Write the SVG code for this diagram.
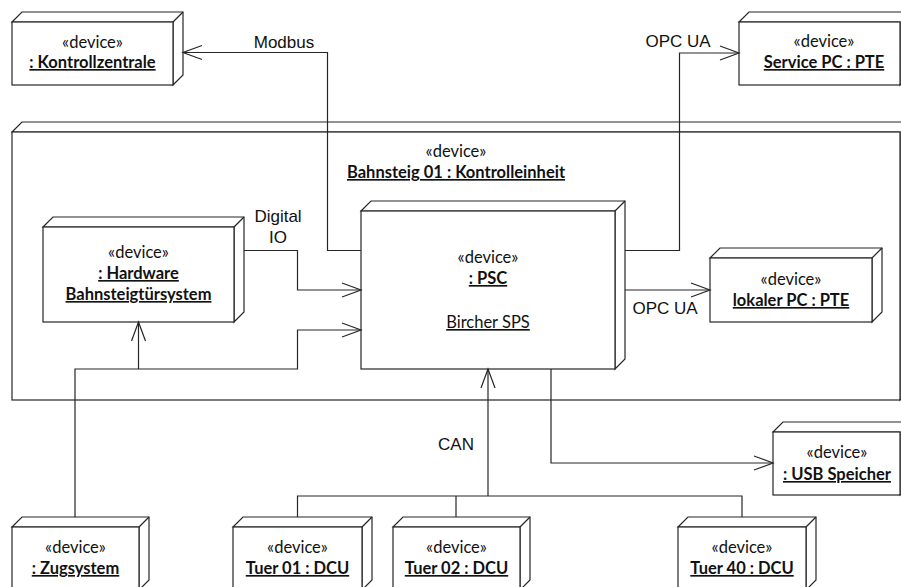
<svg xmlns="http://www.w3.org/2000/svg" width="901" height="587" viewBox="0 0 901 587">
<style>
.n{fill:#fff;stroke:#262626;stroke-width:1.2}
.c{fill:none;stroke:#262626;stroke-width:1.2}
.s{font-family:Lato,"Open Sans",sans-serif;font-size:16.5px;fill:#111;text-anchor:middle}
.b{font-weight:bold;text-decoration:underline}
.u{text-decoration:underline}
.l{font-family:"Liberation Sans",Arial,sans-serif;font-size:17px;fill:#111;text-anchor:middle}
</style>
<defs>
<marker id="ar" viewBox="-20 -9 22 18" refX="0" refY="0" markerWidth="22" markerHeight="18" markerUnits="userSpaceOnUse" orient="auto">
<path d="M-19,-7 L0,0 L-19,7" fill="none" stroke="#262626" stroke-width="1.2"/>
</marker>
</defs>
<rect width="901" height="587" fill="#fff"/>

<g id="kontrolleinheit">
<path class="n" d="M12,132 L22,122 L910,122 L910,390 L900,400 L900,132 Z"/>
<rect class="n" x="12" y="132" width="888" height="268"/>
<text class="s" x="456" y="157">«device»</text>
<text class="s b" x="456" y="178">Bahnsteig 01 : Kontrolleinheit</text>
</g>

<g id="kontrollzentrale">
<path class="n" d="M12,22 L22,12 L183,12 L183,75 L173,85 L173,22 Z"/>
<path class="c" d="M173,22 L183,12"/>
<rect class="n" x="12" y="22" width="161" height="63"/>
<text class="s" x="92.5" y="48">«device»</text>
<text class="s b" x="92.5" y="68">: Kontrollzentrale</text>
</g>

<g id="servicepc">
<path class="n" d="M739,22 L749,12 L910,12 L910,75 L900,85 L900,22 Z"/>
<rect class="n" x="739" y="22" width="161" height="63"/>
<text class="s" x="824" y="47">«device»</text>
<text class="s b" x="824" y="68">Service PC : PTE</text>
</g>

<g id="hardware">
<path class="n" d="M43,227 L53,217 L244,217 L244,312 L234,322 L234,227 Z"/>
<path class="c" d="M234,227 L244,217"/>
<rect class="n" x="43" y="227" width="191" height="95"/>
<text class="s" x="138.5" y="258">«device»</text>
<text class="s b" x="138.5" y="279">: Hardware</text>
<text class="s b" x="138.5" y="300">Bahnsteigtürsystem</text>
</g>

<g id="psc">
<path class="n" d="M361,211 L371,201 L625,201 L625,359 L615,369 L615,211 Z"/>
<path class="c" d="M615,211 L625,201"/>
<rect class="n" x="361" y="211" width="254" height="158"/>
<text class="s" x="488" y="263">«device»</text>
<text class="s b" x="488" y="284">: PSC</text>
<text class="s u" x="488" y="328">Bircher SPS</text>
</g>

<g id="lokalerpc">
<path class="n" d="M710,258 L720,248 L882,248 L882,312 L872,322 L872,258 Z"/>
<path class="c" d="M872,258 L882,248"/>
<rect class="n" x="710" y="258" width="162" height="64"/>
<text class="s" x="791" y="285">«device»</text>
<text class="s b" x="791" y="306">lokaler PC : PTE</text>
</g>

<g id="usbspeicher">
<path class="n" d="M773,432 L783,422 L910,422 L910,485 L900,495 L900,432 Z"/>
<rect class="n" x="773" y="432" width="127" height="63"/>
<text class="s" x="837" y="458">«device»</text>
<text class="s b" x="837" y="480">: USB Speicher</text>
</g>

<g id="zugsystem">
<path class="n" d="M12,527 L22,517 L149,517 L149,580 L139,590 L139,527 Z"/>
<path class="c" d="M139,527 L149,517"/>
<rect class="n" x="12" y="527" width="127" height="63"/>
<text class="s" x="75.5" y="553">«device»</text>
<text class="s b" x="75.5" y="574">: Zugsystem</text>
</g>

<g id="tuer01">
<path class="n" d="M233,527 L243,517 L372,517 L372,580 L362,590 L362,527 Z"/>
<path class="c" d="M362,527 L372,517"/>
<rect class="n" x="233" y="527" width="129" height="63"/>
<text class="s" x="297.5" y="553">«device»</text>
<text class="s b" x="297.5" y="574">Tuer 01 : DCU</text>
</g>

<g id="tuer02">
<path class="n" d="M393,527 L403,517 L530,517 L530,580 L520,590 L520,527 Z"/>
<path class="c" d="M520,527 L530,517"/>
<rect class="n" x="393" y="527" width="127" height="63"/>
<text class="s" x="456.5" y="553">«device»</text>
<text class="s b" x="456.5" y="574">Tuer 02 : DCU</text>
</g>

<g id="tuer40">
<path class="n" d="M678,527 L688,517 L816,517 L816,580 L806,590 L806,527 Z"/>
<path class="c" d="M806,527 L816,517"/>
<rect class="n" x="678" y="527" width="128" height="63"/>
<text class="s" x="742" y="553">«device»</text>
<text class="s b" x="742" y="574">Tuer 40 : DCU</text>
</g>

<g id="connectors">
<path class="c" d="M361,250.5 L327.5,250.5 L327.5,52.5 L183,52.5" marker-end="url(#ar)"/>
<path class="c" d="M625,250.5 L679.5,250.5 L679.5,53 L739,53" marker-end="url(#ar)"/>
<path class="c" d="M244,250.5 L297.5,250.5 L297.5,290 L361,290" marker-end="url(#ar)"/>
<path class="c" d="M75,517 L75,369 L297.5,369 L297.5,330 L361,330" marker-end="url(#ar)"/>
<path class="c" d="M138.5,369 L138.5,322" marker-end="url(#ar)"/>
<path class="c" d="M625,290 L710,290" marker-end="url(#ar)"/>
<path class="c" d="M488,496 L488,369" marker-end="url(#ar)"/>
<path class="c" d="M297.5,517 L297.5,496 L742,496 L742,517 M456,496 L456,517"/>
<path class="c" d="M551,369 L551,463 L773,463" marker-end="url(#ar)"/>
<text class="l" x="284" y="48">Modbus</text>
<text class="l" x="678" y="47">OPC UA</text>
<text class="l" x="278" y="222">Digital</text>
<text class="l" x="278" y="243">IO</text>
<text class="l" x="665" y="314">OPC UA</text>
<text class="l" x="456" y="450">CAN</text>
</g>
</svg>
